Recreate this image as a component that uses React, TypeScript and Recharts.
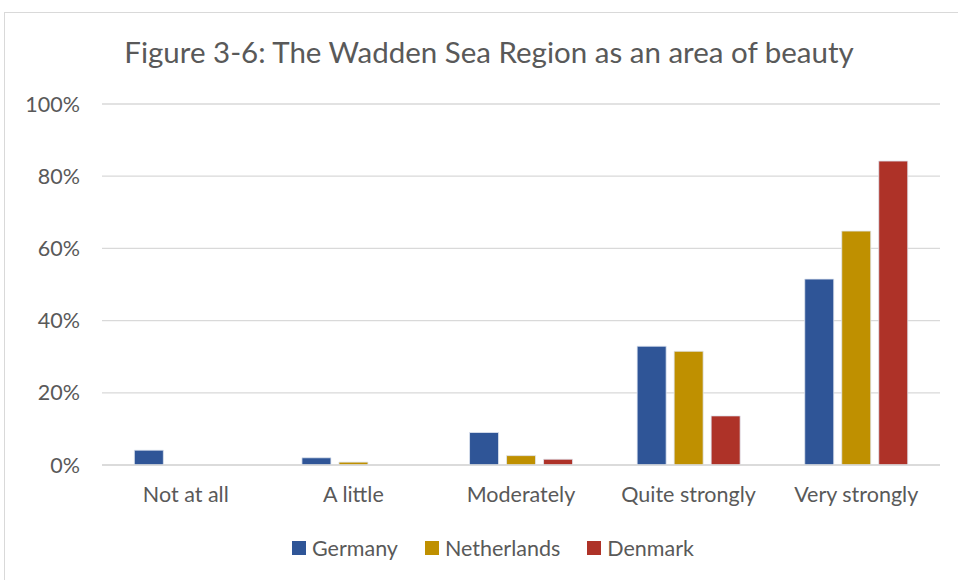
import React from 'react'
import { BarChart, Bar, XAxis, YAxis, CartesianGrid } from 'recharts'

const categories = ['Not at all', 'A little', 'Moderately', 'Quite strongly', 'Very strongly']
const germany = [4.1, 2.0, 9.0, 32.9, 51.5]
const netherlands = [0, 0.8, 2.6, 31.5, 64.8]
const denmark = [0, 0, 1.6, 13.6, 84.2]
const yTicks = [0, 20, 40, 60, 80, 100]

const series = [
  { key: 'Germany', color: '#2F5597' },
  { key: 'Netherlands', color: '#BF9000' },
  { key: 'Denmark', color: '#AE3228' },
]

const data = categories.map((c, i) => ({
  name: c,
  Germany: germany[i],
  Netherlands: netherlands[i],
  Denmark: denmark[i],
}))

const font = 'Lato, "Noto Sans", sans-serif'
const textColor = '#595959'

export default function App() {
  return (
    <div style={{ position: 'absolute', left: 0, top: 0, width: 958, height: 580, background: '#fff', overflow: 'hidden' }}>
      <div
        style={{
          position: 'absolute',
          left: 4,
          top: 12,
          width: 980,
          height: 600,
          border: '1px solid #d9d9d9',
        }}
      />
      <div
        style={{
          position: 'absolute',
          left: 0,
          top: 34,
          width: 978,
          textAlign: 'center',
          fontFamily: font,
          fontSize: 29.5,
          color: textColor,
        }}
      >
        Figure 3-6: The Wadden Sea Region as an area of beauty
      </div>
      <div style={{ position: 'absolute', left: 0, top: 0 }}>
        <BarChart
          width={958}
          height={580}
          data={data}
          margin={{ top: 104, right: 18, left: 42, bottom: 85 }}
          barCategoryGap="19.3%"
          barGap={8}
        >
          <CartesianGrid vertical={false} stroke="#d9d9d9" strokeWidth={1.3} />
          <XAxis
            dataKey="name"
            axisLine={{ stroke: '#d9d9d9', strokeWidth: 1.3 }}
            tickLine={false}
            tick={{ fill: textColor, fontSize: 21.5, fontFamily: font }}
            tickMargin={16}
          />
          <YAxis
            width={60}
            domain={[0, 100]}
            ticks={yTicks}
            tickFormatter={(v) => `${v}%`}
            axisLine={false}
            tickLine={false}
            tick={{ fill: textColor, fontSize: 21.5, fontFamily: font }}
            tickMargin={16}
          />
          {series.map((s) => (
            <Bar
              key={s.key}
              dataKey={s.key}
              fill={s.color}
              stroke="#dfe6f0"
              strokeWidth={0.8}
              isAnimationActive={false}
            />
          ))}
        </BarChart>
      </div>
      <div
        style={{
          position: 'absolute',
          left: 0,
          top: 535,
          width: 986,
          display: 'flex',
          justifyContent: 'center',
          gap: 27,
          fontFamily: font,
          fontSize: 21.5,
          color: textColor,
        }}
      >
        {series.map((s) => (
          <div key={s.key} style={{ display: 'flex', alignItems: 'center' }}>
            <span style={{ display: 'inline-block', width: 14, height: 14, background: s.color, marginRight: 6 }} />
            <span>{s.key}</span>
          </div>
        ))}
      </div>
    </div>
  )
}
